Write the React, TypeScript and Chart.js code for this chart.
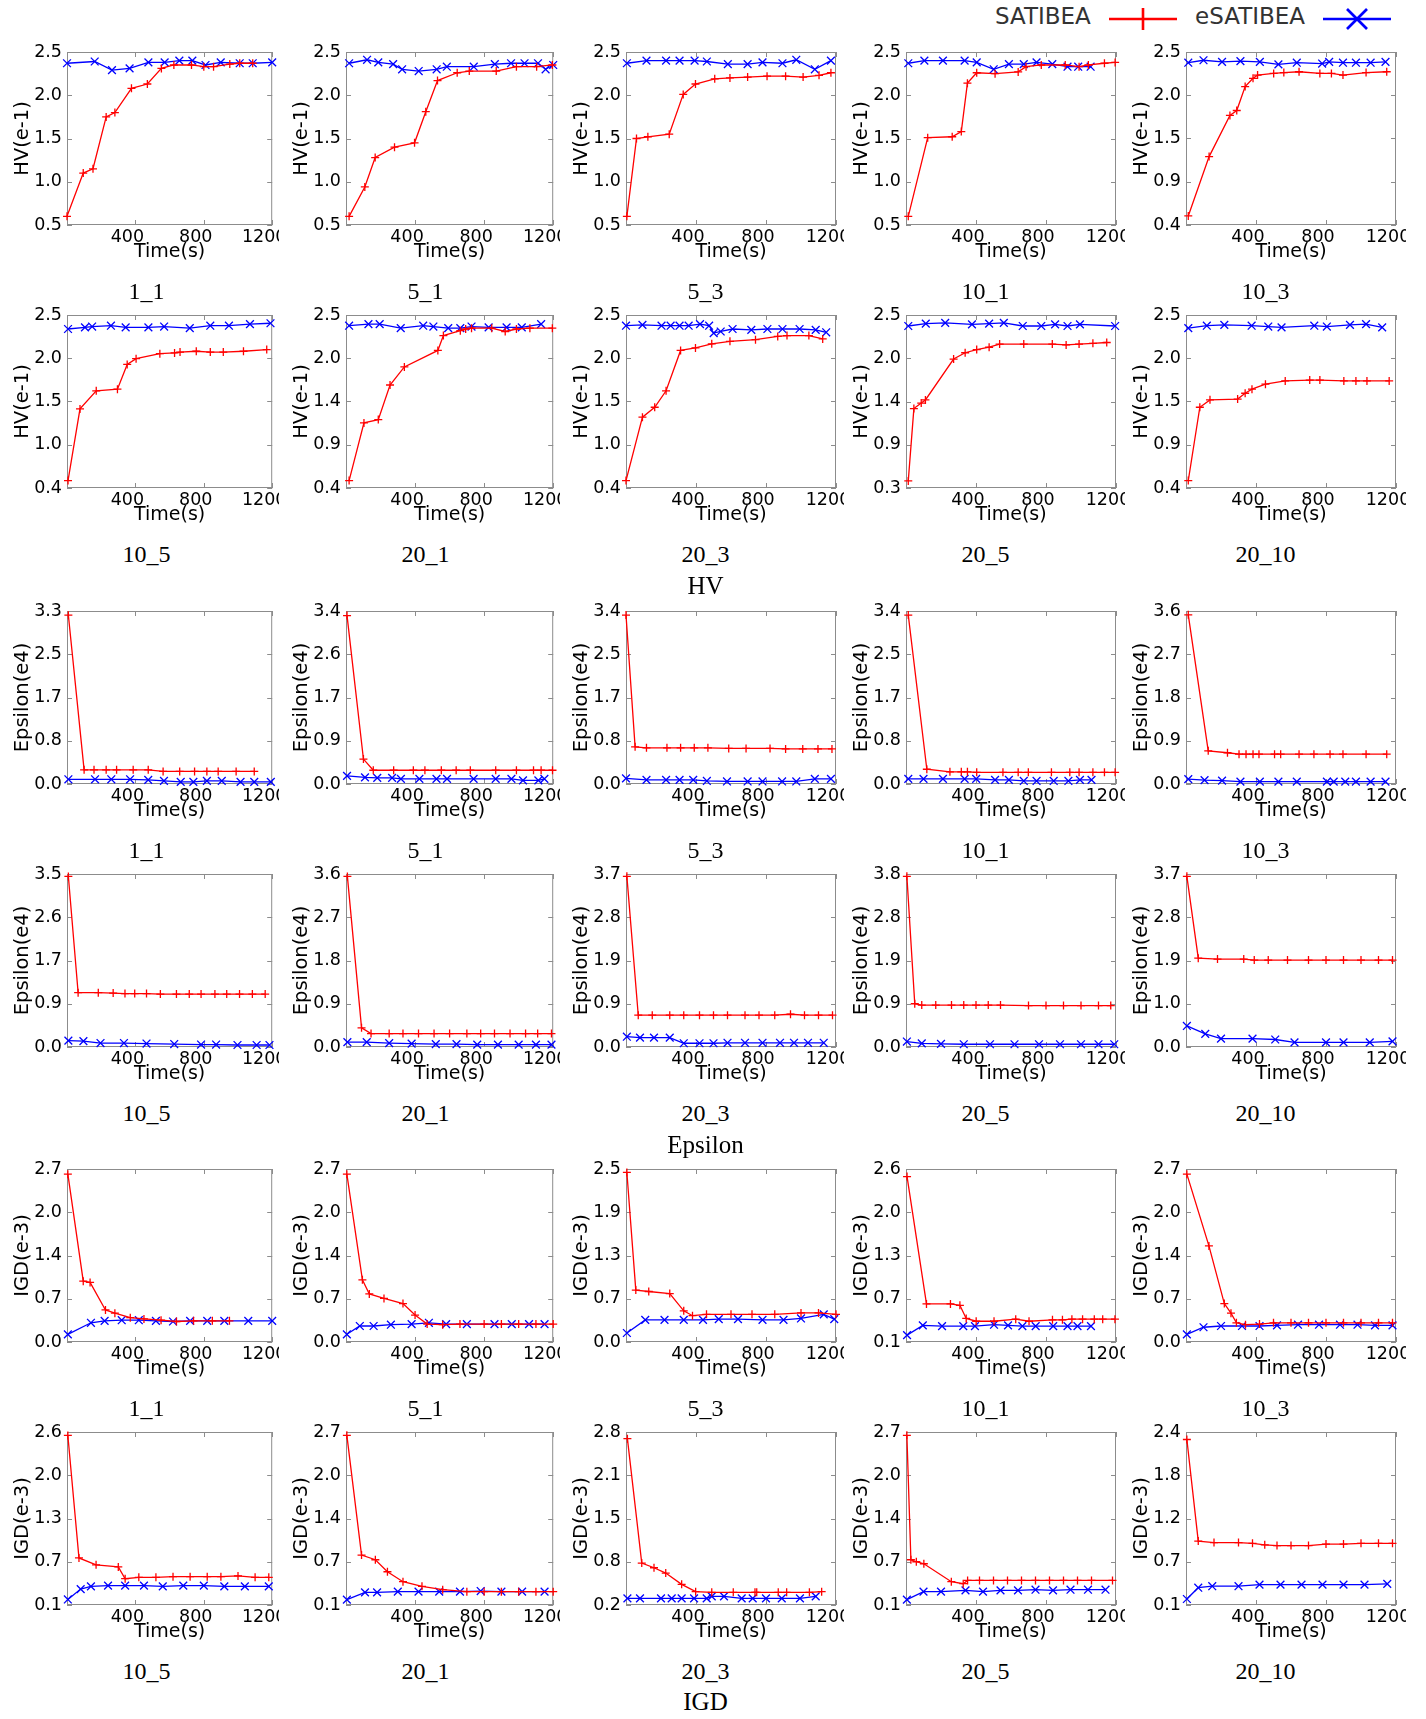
import { useEffect, useRef } from "react";
import { Chart, registerables } from "chart.js";
Chart.register(...registerables);

type Pair = [number, number];

// ---------------- shared axis values ----------------
const TIME_TICKS = [400, 800, 1200];
const TIME_MIN = 0;
const TIME_MAX = 1200;
const SERIES_NAMES = ["SATIBEA", "eSATIBEA"];
const INSTANCES_ROW_A = ["1_1", "5_1", "5_3", "10_1", "10_3"];
const INSTANCES_ROW_B = ["10_5", "20_1", "20_3", "20_5", "20_10"];
const METRICS = ["HV", "Epsilon", "IGD"];
const METRIC_AXIS = ["HV(e-1)", "Epsilon(e4)", "IGD(e-3)"];

// ---------------- HV ----------------
const hv_1_1_range = [0.5, 2.5];
const hv_1_1_ticks = ["0.5", "1.0", "1.5", "2.0", "2.5"];
const hv_1_1_sat: Pair[] = [[0,0.60],[95,1.10],[152,1.15],[229,1.75],[280,1.80],[377,2.08],[470,2.13],[552,2.31],[625,2.35],[728,2.35],[800,2.33],[857,2.33],[952,2.36],[1010,2.37],[1086,2.37]];
const hv_1_1_esat: Pair[] = [[0,2.37],[162,2.39],[263,2.29],[366,2.31],[476,2.38],[571,2.38],[657,2.40],[733,2.40],[810,2.35],[899,2.38],[1010,2.37],[1086,2.37],[1200,2.38]];

const hv_5_1_range = [0.5, 2.5];
const hv_5_1_ticks = ["0.5", "1.0", "1.5", "2.0", "2.5"];
const hv_5_1_sat: Pair[] = [[18,0.60],[109,0.94],[169,1.28],[281,1.40],[397,1.45],[462,1.81],[530,2.17],[644,2.26],[714,2.28],[870,2.28],[987,2.33],[1104,2.33],[1195,2.35]];
const hv_5_1_esat: Pair[] = [[18,2.37],[122,2.41],[187,2.38],[273,2.36],[325,2.30],[421,2.28],[525,2.30],[584,2.33],[740,2.33],[862,2.36],[956,2.37],[1034,2.37],[1112,2.37],[1156,2.30],[1200,2.35]];

const hv_5_3_range = [0.5, 2.5];
const hv_5_3_ticks = ["0.5", "1.0", "1.5", "2.0", "2.5"];
const hv_5_3_sat: Pair[] = [[5,0.60],[60,1.50],[125,1.52],[247,1.55],[327,2.01],[397,2.13],[507,2.19],[594,2.20],[695,2.21],[806,2.22],[912,2.22],[1012,2.21],[1103,2.23],[1171,2.26]];
const hv_5_3_esat: Pair[] = [[5,2.37],[117,2.40],[229,2.40],[306,2.40],[392,2.40],[462,2.39],[582,2.36],[695,2.36],[780,2.38],[894,2.37],[973,2.41],[1079,2.30],[1171,2.40]];

const hv_10_1_range = [0.5, 2.5];
const hv_10_1_ticks = ["0.5", "1.0", "1.5", "2.0", "2.5"];
const hv_10_1_sat: Pair[] = [[13,0.60],[124,1.51],[264,1.52],[316,1.58],[351,2.14],[404,2.26],[509,2.25],[641,2.27],[686,2.33],[773,2.35],[910,2.35],[989,2.33],[1042,2.35],[1134,2.37],[1195,2.38]];
const hv_10_1_esat: Pair[] = [[13,2.37],[105,2.40],[211,2.40],[335,2.40],[404,2.38],[501,2.30],[588,2.36],[673,2.36],[746,2.38],[836,2.36],[923,2.33],[984,2.33],[1055,2.33]];

const hv_10_3_range = [0.4, 2.5];
const hv_10_3_ticks = ["0.4", "0.9", "1.5", "2.0", "2.5"];
const hv_10_3_sat: Pair[] = [[13,0.51],[132,1.23],[251,1.73],[290,1.79],[338,2.08],[383,2.18],[409,2.22],[501,2.24],[559,2.25],[646,2.26],[765,2.24],[831,2.24],[897,2.22],[1029,2.25],[1147,2.26]];
const hv_10_3_esat: Pair[] = [[13,2.37],[100,2.40],[206,2.38],[311,2.39],[422,2.38],[528,2.35],[633,2.37],[778,2.36],[818,2.38],[897,2.37],[971,2.37],[1055,2.37],[1140,2.38]];

const hv_10_5_range = [0.4, 2.5];
const hv_10_5_ticks = ["0.4", "1.0", "1.5", "2.0", "2.5"];
const hv_10_5_sat: Pair[] = [[6,0.49],[76,1.36],[171,1.58],[295,1.60],[352,1.90],[404,1.97],[543,2.03],[629,2.04],[661,2.05],[756,2.06],[838,2.05],[914,2.05],[1032,2.06],[1168,2.08]];
const hv_10_5_esat: Pair[] = [[6,2.33],[105,2.35],[147,2.36],[257,2.37],[343,2.35],[476,2.35],[568,2.36],[718,2.34],[838,2.37],[947,2.37],[1070,2.39],[1190,2.40]];

const hv_20_1_range = [0.4, 2.5];
const hv_20_1_ticks = ["0.4", "0.9", "1.4", "2.0", "2.5"];
const hv_20_1_sat: Pair[] = [[18,0.49],[104,1.19],[187,1.23],[255,1.65],[338,1.87],[532,2.07],[564,2.25],[662,2.31],[693,2.33],[727,2.34],[844,2.34],[922,2.30],[987,2.33],[1065,2.34],[1195,2.34]];
const hv_20_1_esat: Pair[] = [[18,2.37],[130,2.39],[195,2.39],[317,2.34],[447,2.37],[506,2.36],[592,2.34],[662,2.34],[727,2.36],[826,2.35],[930,2.35],[1018,2.35],[1130,2.39]];

const hv_20_3_range = [0.4, 2.5];
const hv_20_3_ticks = ["0.4", "1.0", "1.5", "2.0", "2.5"];
const hv_20_3_sat: Pair[] = [[0,0.49],[94,1.26],[164,1.38],[229,1.58],[312,2.07],[397,2.10],[490,2.15],[594,2.18],[740,2.20],[867,2.24],[920,2.25],[1045,2.25],[1124,2.21]];
const hv_20_3_esat: Pair[] = [[0,2.37],[94,2.38],[203,2.37],[255,2.37],[306,2.37],[358,2.37],[423,2.39],[475,2.37],[501,2.28],[541,2.30],[609,2.33],[716,2.32],[808,2.33],[894,2.33],[992,2.33],[1084,2.32],[1144,2.29]];

const hv_20_5_range = [0.3, 2.5];
const hv_20_5_ticks = ["0.3", "0.9", "1.4", "2.0", "2.5"];
const hv_20_5_sat: Pair[] = [[13,0.39],[45,1.31],[87,1.38],[111,1.42],[272,1.94],[338,2.02],[404,2.06],[475,2.09],[535,2.13],[673,2.13],[836,2.13],[915,2.12],[989,2.13],[1068,2.14],[1147,2.15]];
const hv_20_5_esat: Pair[] = [[13,2.36],[113,2.39],[224,2.40],[377,2.38],[475,2.39],[559,2.40],[667,2.36],[773,2.36],[852,2.38],[923,2.36],[994,2.38],[1195,2.36]];

const hv_20_10_range = [0.4, 2.5];
const hv_20_10_ticks = ["0.4", "0.9", "1.5", "2.0", "2.5"];
const hv_20_10_sat: Pair[] = [[13,0.49],[79,1.38],[137,1.47],[295,1.48],[338,1.55],[377,1.60],[454,1.66],[567,1.70],[707,1.71],[765,1.71],[902,1.70],[971,1.70],[1034,1.70],[1161,1.70]];
const hv_20_10_esat: Pair[] = [[13,2.34],[119,2.37],[219,2.38],[375,2.37],[470,2.36],[546,2.35],[733,2.37],[805,2.36],[937,2.38],[1029,2.39],[1121,2.35]];

// ---------------- Epsilon ----------------
const eps_1_1_range = [0, 3.3];
const eps_1_1_ticks = ["0.0", "0.8", "1.7", "2.5", "3.3"];
const eps_1_1_sat: Pair[] = [[8,3.22],[100,0.27],[158,0.27],[229,0.27],[290,0.27],[387,0.27],[475,0.27],[562,0.24],[659,0.24],[746,0.24],[818,0.24],[884,0.24],[989,0.24],[1095,0.24]];
const eps_1_1_esat: Pair[] = [[8,0.09],[164,0.09],[259,0.09],[369,0.09],[475,0.08],[567,0.06],[665,0.04],[739,0.04],[818,0.06],[905,0.06],[1015,0.04],[1095,0.04],[1192,0.04]];

const eps_5_1_range = [0, 3.4];
const eps_5_1_ticks = ["0.0", "0.9", "1.7", "2.6", "3.4"];
const eps_5_1_sat: Pair[] = [[6,3.31],[101,0.49],[158,0.27],[276,0.27],[390,0.27],[457,0.27],[552,0.27],[638,0.27],[720,0.27],[867,0.27],[987,0.27],[1086,0.27],[1130,0.27],[1196,0.27]];
const eps_5_1_esat: Pair[] = [[6,0.16],[110,0.13],[181,0.12],[267,0.12],[318,0.10],[425,0.10],[524,0.10],[585,0.10],[739,0.10],[867,0.10],[958,0.10],[1025,0.07],[1114,0.07],[1149,0.10]];

const eps_5_3_range = [0, 3.4];
const eps_5_3_ticks = ["0.0", "0.8", "1.7", "2.5", "3.4"];
const eps_5_3_sat: Pair[] = [[0,3.32],[52,0.73],[117,0.71],[234,0.71],[312,0.71],[390,0.71],[468,0.71],[587,0.70],[686,0.70],[823,0.70],[912,0.69],[1010,0.69],[1097,0.69],[1177,0.69]];
const eps_5_3_esat: Pair[] = [[0,0.11],[117,0.08],[229,0.08],[306,0.08],[384,0.08],[462,0.06],[577,0.05],[695,0.05],[780,0.05],[892,0.05],[973,0.05],[1079,0.10],[1171,0.10]];

const eps_10_1_range = [0, 3.4];
const eps_10_1_ticks = ["0.0", "0.8", "1.7", "2.5", "3.4"];
const eps_10_1_sat: Pair[] = [[13,3.32],[119,0.29],[251,0.24],[316,0.24],[351,0.24],[404,0.23],[554,0.23],[641,0.23],[699,0.23],[831,0.23],[936,0.23],[989,0.23],[1068,0.23],[1134,0.23],[1195,0.23]];
const eps_10_1_esat: Pair[] = [[13,0.10],[100,0.10],[211,0.10],[335,0.10],[401,0.10],[509,0.08],[588,0.08],[673,0.06],[746,0.06],[844,0.06],[928,0.06],[994,0.08],[1060,0.08]];

const eps_10_3_range = [0, 3.6];
const eps_10_3_ticks = ["0.0", "0.9", "1.8", "2.7", "3.6"];
const eps_10_3_sat: Pair[] = [[13,3.52],[127,0.69],[237,0.65],[303,0.62],[343,0.62],[383,0.62],[417,0.62],[506,0.62],[541,0.62],[646,0.62],[731,0.62],[823,0.62],[897,0.62],[1029,0.62],[1147,0.62]];
const eps_10_3_esat: Pair[] = [[13,0.10],[106,0.08],[206,0.07],[311,0.05],[422,0.05],[528,0.05],[633,0.05],[805,0.05],[844,0.05],[910,0.05],[971,0.05],[1055,0.05],[1140,0.05]];

const eps_10_5_range = [0, 3.5];
const eps_10_5_ticks = ["0.0", "0.9", "1.7", "2.6", "3.5"];
const eps_10_5_sat: Pair[] = [[8,3.45],[65,1.10],[183,1.10],[270,1.09],[339,1.08],[396,1.08],[465,1.08],[546,1.07],[640,1.07],[715,1.07],[784,1.07],[865,1.07],[934,1.07],[1009,1.07],[1084,1.07],[1159,1.07]];
const eps_10_5_esat: Pair[] = [[8,0.13],[96,0.12],[196,0.08],[333,0.08],[465,0.07],[627,0.06],[784,0.05],[872,0.05],[997,0.04],[1109,0.04],[1184,0.04]];

const eps_20_1_range = [0, 3.6];
const eps_20_1_ticks = ["0.0", "0.9", "1.8", "2.7", "3.6"];
const eps_20_1_sat: Pair[] = [[8,3.55],[90,0.40],[145,0.28],[250,0.28],[330,0.28],[420,0.28],[510,0.28],[600,0.28],[700,0.28],[780,0.28],[860,0.28],[950,0.28],[1040,0.28],[1110,0.28],[1190,0.28]];
const eps_20_1_esat: Pair[] = [[8,0.10],[120,0.10],[250,0.08],[380,0.07],[520,0.06],[640,0.06],[760,0.05],[880,0.05],[1000,0.05],[1100,0.05],[1190,0.05]];

const eps_20_3_range = [0, 3.7];
const eps_20_3_ticks = ["0.0", "0.9", "1.9", "2.8", "3.7"];
const eps_20_3_sat: Pair[] = [[5,3.65],[70,0.68],[150,0.68],[250,0.68],[330,0.68],[420,0.68],[500,0.68],[580,0.68],[680,0.68],[760,0.68],[850,0.68],[940,0.70],[1020,0.68],[1100,0.68],[1180,0.68]];
const eps_20_3_esat: Pair[] = [[5,0.22],[80,0.20],[160,0.20],[250,0.20],[330,0.08],[420,0.08],[500,0.08],[580,0.09],[680,0.09],[780,0.09],[880,0.09],[960,0.09],[1040,0.09],[1130,0.09]];

const eps_20_5_range = [0, 3.8];
const eps_20_5_ticks = ["0.0", "0.9", "1.9", "2.8", "3.8"];
const eps_20_5_sat: Pair[] = [[5,3.75],[50,0.95],[90,0.92],[170,0.92],[260,0.92],[330,0.92],[400,0.92],[470,0.92],[540,0.92],[700,0.91],[800,0.91],[900,0.91],[1000,0.91],[1100,0.91],[1170,0.91]];
const eps_20_5_esat: Pair[] = [[5,0.12],[90,0.08],[200,0.07],[330,0.06],[480,0.06],[620,0.06],[760,0.06],[880,0.06],[1000,0.06],[1100,0.06],[1190,0.06]];

const eps_20_10_range = [0, 3.7];
const eps_20_10_ticks = ["0.0", "1.0", "1.9", "2.8", "3.7"];
const eps_20_10_sat: Pair[] = [[5,3.65],[70,1.90],[180,1.88],[330,1.88],[390,1.86],[470,1.86],[580,1.86],[700,1.86],[800,1.86],[900,1.86],[1000,1.86],[1100,1.86],[1180,1.86]];
const eps_20_10_esat: Pair[] = [[5,0.45],[110,0.28],[200,0.18],[380,0.18],[510,0.16],[620,0.10],[800,0.10],[900,0.10],[1050,0.10],[1180,0.12]];

// ---------------- IGD ----------------
const igd_1_1_range = [0, 2.7];
const igd_1_1_ticks = ["0.0", "0.7", "1.4", "2.0", "2.7"];
const igd_1_1_sat: Pair[] = [[5,2.62],[95,0.95],[135,0.93],[225,0.50],[280,0.45],[370,0.38],[450,0.36],[550,0.34],[640,0.32],[740,0.33],[850,0.33],[950,0.33]];
const igd_1_1_esat: Pair[] = [[5,0.12],[140,0.30],[220,0.33],[320,0.34],[420,0.34],[520,0.33],[620,0.32],[720,0.33],[820,0.33],[920,0.33],[1060,0.33],[1200,0.33]];

const igd_5_1_range = [0, 2.7];
const igd_5_1_ticks = ["0.0", "0.7", "1.4", "2.0", "2.7"];
const igd_5_1_sat: Pair[] = [[5,2.62],[95,0.97],[135,0.75],[220,0.68],[330,0.60],[400,0.42],[470,0.28],[560,0.27],[660,0.28],[800,0.28],[900,0.28],[1000,0.28],[1100,0.28],[1200,0.28]];
const igd_5_1_esat: Pair[] = [[5,0.12],[80,0.25],[160,0.25],[260,0.27],[380,0.28],[480,0.30],[580,0.28],[700,0.28],[860,0.28],[960,0.28],[1060,0.28],[1150,0.28]];

const igd_5_3_range = [0, 2.5];
const igd_5_3_ticks = ["0.0", "0.7", "1.3", "1.9", "2.5"];
const igd_5_3_sat: Pair[] = [[5,2.45],[56,0.75],[130,0.73],[250,0.70],[330,0.45],[380,0.38],[460,0.40],[600,0.40],[720,0.40],[850,0.40],[1000,0.42],[1100,0.42],[1200,0.40]];
const igd_5_3_esat: Pair[] = [[5,0.13],[110,0.32],[220,0.32],[330,0.32],[440,0.32],[530,0.33],[640,0.33],[780,0.32],[900,0.32],[1000,0.34],[1130,0.40],[1190,0.33]];

const igd_10_1_range = [0.1, 2.6];
const igd_10_1_ticks = ["0.1", "0.7", "1.3", "2.0", "2.6"];
const igd_10_1_sat: Pair[] = [[6,2.49],[117,0.65],[254,0.65],[308,0.63],[344,0.44],[401,0.40],[503,0.40],[627,0.43],[703,0.40],[837,0.42],[894,0.42],[948,0.43],[1009,0.43],[1076,0.43],[1124,0.43],[1194,0.43]];
const igd_10_1_esat: Pair[] = [[6,0.20],[96,0.34],[206,0.33],[327,0.33],[394,0.33],[503,0.35],[583,0.34],[665,0.33],[741,0.33],[841,0.33],[923,0.33],[980,0.33],[1057,0.33]];

const igd_10_3_range = [0, 2.7];
const igd_10_3_ticks = ["0.0", "0.7", "1.4", "2.0", "2.7"];
const igd_10_3_sat: Pair[] = [[5,2.62],[131,1.50],[219,0.60],[257,0.45],[288,0.30],[340,0.27],[420,0.28],[500,0.30],[600,0.30],[700,0.30],[800,0.30],[900,0.30],[1000,0.30],[1100,0.30],[1180,0.30]];
const igd_10_3_esat: Pair[] = [[5,0.12],[100,0.23],[200,0.25],[320,0.25],[420,0.25],[520,0.26],[640,0.27],[760,0.27],[880,0.27],[980,0.27],[1080,0.26],[1180,0.26]];

const igd_10_5_range = [0.1, 2.6];
const igd_10_5_ticks = ["0.1", "0.7", "1.3", "2.0", "2.6"];
const igd_10_5_sat: Pair[] = [[5,2.55],[70,0.78],[170,0.68],[300,0.65],[340,0.48],[420,0.50],[520,0.50],[620,0.51],[720,0.51],[820,0.51],[900,0.51],[1000,0.52],[1100,0.50],[1180,0.50]];
const igd_10_5_esat: Pair[] = [[5,0.18],[80,0.33],[140,0.37],[240,0.38],[340,0.38],[450,0.38],[560,0.37],[680,0.38],[800,0.38],[920,0.37],[1040,0.37],[1180,0.37]];

const igd_20_1_range = [0.1, 2.7];
const igd_20_1_ticks = ["0.1", "0.7", "1.4", "2.0", "2.7"];
const igd_20_1_sat: Pair[] = [[5,2.65],[90,0.85],[170,0.78],[240,0.60],[330,0.45],[440,0.38],[560,0.33],[700,0.30],[800,0.30],[900,0.30],[1000,0.30],[1100,0.30],[1200,0.30]];
const igd_20_1_esat: Pair[] = [[5,0.18],[110,0.29],[180,0.29],[300,0.30],[420,0.30],[540,0.30],[660,0.30],[780,0.31],[900,0.30],[1020,0.30],[1150,0.30]];

const igd_20_3_range = [0.2, 2.8];
const igd_20_3_ticks = ["0.2", "0.8", "1.5", "2.1", "2.8"];
const igd_20_3_sat: Pair[] = [[8,2.70],[90,0.83],[160,0.76],[227,0.68],[318,0.51],[398,0.40],[490,0.39],[613,0.39],[737,0.39],[747,0.39],[870,0.39],[918,0.39],[1048,0.39],[1118,0.40]];
const igd_20_3_esat: Pair[] = [[8,0.30],[80,0.30],[200,0.30],[261,0.30],[318,0.30],[389,0.30],[461,0.30],[490,0.33],[560,0.33],[661,0.30],[724,0.30],[800,0.30],[890,0.30],[994,0.30],[1084,0.33]];

const igd_20_5_range = [0.1, 2.7];
const igd_20_5_ticks = ["0.1", "0.7", "1.4", "2.0", "2.7"];
const igd_20_5_sat: Pair[] = [[5,2.65],[28,0.78],[59,0.75],[102,0.72],[259,0.45],[327,0.42],[352,0.47],[420,0.47],[500,0.47],[580,0.47],[660,0.47],[740,0.47],[820,0.47],[900,0.47],[980,0.47],[1060,0.47],[1180,0.47]];
const igd_20_5_esat: Pair[] = [[5,0.18],[100,0.30],[200,0.30],[340,0.32],[440,0.30],[540,0.32],[640,0.32],[740,0.33],[840,0.32],[940,0.33],[1040,0.33],[1140,0.33]];

const igd_20_10_range = [0.1, 2.4];
const igd_20_10_ticks = ["0.1", "0.7", "1.2", "1.8", "2.4"];
const igd_20_10_sat: Pair[] = [[5,2.30],[70,0.95],[160,0.93],[300,0.93],[380,0.92],[450,0.90],[520,0.89],[600,0.89],[700,0.89],[800,0.91],[900,0.91],[1000,0.92],[1100,0.92],[1180,0.92]];
const igd_20_10_esat: Pair[] = [[5,0.18],[70,0.33],[150,0.35],[300,0.35],[420,0.37],[540,0.37],[660,0.37],[780,0.37],[900,0.37],[1020,0.37],[1150,0.38]];

// ---------------- panel table ----------------
interface PanelSpec { label: string; axis: string; range: number[]; ticks: string[]; sat: Pair[]; esat: Pair[]; }
const P = (label: string, axis: string, range: number[], ticks: string[], sat: Pair[], esat: Pair[]): PanelSpec => ({ label, axis, range, ticks, sat, esat });

const ROWS: PanelSpec[][] = [
  [P(INSTANCES_ROW_A[0], METRIC_AXIS[0], hv_1_1_range, hv_1_1_ticks, hv_1_1_sat, hv_1_1_esat),
   P(INSTANCES_ROW_A[1], METRIC_AXIS[0], hv_5_1_range, hv_5_1_ticks, hv_5_1_sat, hv_5_1_esat),
   P(INSTANCES_ROW_A[2], METRIC_AXIS[0], hv_5_3_range, hv_5_3_ticks, hv_5_3_sat, hv_5_3_esat),
   P(INSTANCES_ROW_A[3], METRIC_AXIS[0], hv_10_1_range, hv_10_1_ticks, hv_10_1_sat, hv_10_1_esat),
   P(INSTANCES_ROW_A[4], METRIC_AXIS[0], hv_10_3_range, hv_10_3_ticks, hv_10_3_sat, hv_10_3_esat)],
  [P(INSTANCES_ROW_B[0], METRIC_AXIS[0], hv_10_5_range, hv_10_5_ticks, hv_10_5_sat, hv_10_5_esat),
   P(INSTANCES_ROW_B[1], METRIC_AXIS[0], hv_20_1_range, hv_20_1_ticks, hv_20_1_sat, hv_20_1_esat),
   P(INSTANCES_ROW_B[2], METRIC_AXIS[0], hv_20_3_range, hv_20_3_ticks, hv_20_3_sat, hv_20_3_esat),
   P(INSTANCES_ROW_B[3], METRIC_AXIS[0], hv_20_5_range, hv_20_5_ticks, hv_20_5_sat, hv_20_5_esat),
   P(INSTANCES_ROW_B[4], METRIC_AXIS[0], hv_20_10_range, hv_20_10_ticks, hv_20_10_sat, hv_20_10_esat)],
  [P(INSTANCES_ROW_A[0], METRIC_AXIS[1], eps_1_1_range, eps_1_1_ticks, eps_1_1_sat, eps_1_1_esat),
   P(INSTANCES_ROW_A[1], METRIC_AXIS[1], eps_5_1_range, eps_5_1_ticks, eps_5_1_sat, eps_5_1_esat),
   P(INSTANCES_ROW_A[2], METRIC_AXIS[1], eps_5_3_range, eps_5_3_ticks, eps_5_3_sat, eps_5_3_esat),
   P(INSTANCES_ROW_A[3], METRIC_AXIS[1], eps_10_1_range, eps_10_1_ticks, eps_10_1_sat, eps_10_1_esat),
   P(INSTANCES_ROW_A[4], METRIC_AXIS[1], eps_10_3_range, eps_10_3_ticks, eps_10_3_sat, eps_10_3_esat)],
  [P(INSTANCES_ROW_B[0], METRIC_AXIS[1], eps_10_5_range, eps_10_5_ticks, eps_10_5_sat, eps_10_5_esat),
   P(INSTANCES_ROW_B[1], METRIC_AXIS[1], eps_20_1_range, eps_20_1_ticks, eps_20_1_sat, eps_20_1_esat),
   P(INSTANCES_ROW_B[2], METRIC_AXIS[1], eps_20_3_range, eps_20_3_ticks, eps_20_3_sat, eps_20_3_esat),
   P(INSTANCES_ROW_B[3], METRIC_AXIS[1], eps_20_5_range, eps_20_5_ticks, eps_20_5_sat, eps_20_5_esat),
   P(INSTANCES_ROW_B[4], METRIC_AXIS[1], eps_20_10_range, eps_20_10_ticks, eps_20_10_sat, eps_20_10_esat)],
  [P(INSTANCES_ROW_A[0], METRIC_AXIS[2], igd_1_1_range, igd_1_1_ticks, igd_1_1_sat, igd_1_1_esat),
   P(INSTANCES_ROW_A[1], METRIC_AXIS[2], igd_5_1_range, igd_5_1_ticks, igd_5_1_sat, igd_5_1_esat),
   P(INSTANCES_ROW_A[2], METRIC_AXIS[2], igd_5_3_range, igd_5_3_ticks, igd_5_3_sat, igd_5_3_esat),
   P(INSTANCES_ROW_A[3], METRIC_AXIS[2], igd_10_1_range, igd_10_1_ticks, igd_10_1_sat, igd_10_1_esat),
   P(INSTANCES_ROW_A[4], METRIC_AXIS[2], igd_10_3_range, igd_10_3_ticks, igd_10_3_sat, igd_10_3_esat)],
  [P(INSTANCES_ROW_B[0], METRIC_AXIS[2], igd_10_5_range, igd_10_5_ticks, igd_10_5_sat, igd_10_5_esat),
   P(INSTANCES_ROW_B[1], METRIC_AXIS[2], igd_20_1_range, igd_20_1_ticks, igd_20_1_sat, igd_20_1_esat),
   P(INSTANCES_ROW_B[2], METRIC_AXIS[2], igd_20_3_range, igd_20_3_ticks, igd_20_3_sat, igd_20_3_esat),
   P(INSTANCES_ROW_B[3], METRIC_AXIS[2], igd_20_5_range, igd_20_5_ticks, igd_20_5_sat, igd_20_5_esat),
   P(INSTANCES_ROW_B[4], METRIC_AXIS[2], igd_20_10_range, igd_20_10_ticks, igd_20_10_sat, igd_20_10_esat)],
];

// ---------------- layout ----------------
const ROW_TOP = [52, 315, 611, 874, 1169, 1432];
const COL_LEFT = [67, 346, 626, 906, 1186];
const COL_CLIP = [2, 4, 8, 9, 10];
const PLOT_W = 210;
const PLOT_H = 173;
const AXIS_W = 67;
const PAD_TOP = 12;
const XAXIS_H = 45;
const SANS = "'DejaVu Sans', sans-serif";
const SERIF = "'Liberation Serif', 'Times New Roman', serif";
const RED = "#ff0000";
const BLUE = "#0000ff";
const FRAME = "#8c8c8c";

const framePlugin = {
  id: "gnuFrame",
  beforeDatasetsDraw(chart: any) {
    const { ctx, chartArea: a, scales } = chart;
    ctx.save();
    ctx.strokeStyle = FRAME;
    ctx.lineWidth = 1;
    ctx.strokeRect(a.left + 0.5, a.top + 0.5, a.right - a.left - 1, a.bottom - a.top - 1);
    const L = 5;
    ctx.beginPath();
    for (const t of scales.x.ticks) {
      const px = Math.round(scales.x.getPixelForValue(t.value)) + 0.5;
      ctx.moveTo(px, a.top); ctx.lineTo(px, a.top + L);
      ctx.moveTo(px, a.bottom); ctx.lineTo(px, a.bottom - L);
    }
    for (const t of scales.y.ticks) {
      const py = Math.round(scales.y.getPixelForValue(t.value)) + 0.5;
      ctx.moveTo(a.left, py); ctx.lineTo(a.left + L, py);
      ctx.moveTo(a.right, py); ctx.lineTo(a.right - L, py);
    }
    ctx.stroke();
    ctx.restore();
  },
};

function Panel({ spec, col, row }: { spec: PanelSpec; col: number; row: number }) {
  const ref = useRef<HTMLCanvasElement>(null);
  const clip = COL_CLIP[col];
  const W = AXIS_W + PLOT_W + clip;
  const H = PAD_TOP + PLOT_H + XAXIS_H;
  useEffect(() => {
    const [ymin, ymax] = spec.range;
    const chart = new Chart(ref.current as HTMLCanvasElement, {
      type: "line",
      data: {
        datasets: [
          {
            label: SERIES_NAMES[0],
            data: spec.sat.map(([x, y]) => ({ x, y })),
            borderColor: RED, backgroundColor: RED, borderWidth: 1.3,
            pointStyle: "cross", pointRadius: 4, pointBorderColor: RED, pointBorderWidth: 1.3,
            tension: 0, clip: false,
          },
          {
            label: SERIES_NAMES[1],
            data: spec.esat.map(([x, y]) => ({ x, y })),
            borderColor: BLUE, backgroundColor: BLUE, borderWidth: 1.3,
            pointStyle: "crossRot", pointRadius: 5.5, pointBorderColor: BLUE, pointBorderWidth: 1.3,
            tension: 0, clip: false,
          },
        ],
      } as any,
      options: {
        responsive: false,
        animation: false,
        events: [],
        layout: { padding: { top: PAD_TOP, right: clip, left: 0, bottom: 0 } },
        plugins: { legend: { display: false }, tooltip: { enabled: false } },
        scales: {
          x: {
            type: "linear", min: TIME_MIN, max: TIME_MAX,
            grid: { display: false, drawTicks: false }, border: { display: false },
            afterBuildTicks: (s: any) => { s.ticks = TIME_TICKS.map((v) => ({ value: v })); },
            afterFit: (s: any) => { s.height = XAXIS_H; s.paddingLeft = 0; s.paddingRight = 0; },
            ticks: { autoSkip: false, maxRotation: 0, minRotation: 0, padding: 2, labelOffset: -8, color: "#000",
              font: { family: SANS, size: 17.5 }, callback: (v: any) => String(v) },
            title: { display: true, text: "Time(s)", color: "#000", font: { family: SANS, size: 19 }, padding: { top: 0, bottom: 7 } },
          },
          y: {
            type: "linear", min: ymin, max: ymax,
            grid: { display: false, drawTicks: false }, border: { display: false },
            afterBuildTicks: (s: any) => { s.ticks = [0, 1, 2, 3, 4].map((i) => ({ value: ymin + (i * (ymax - ymin)) / 4 })); },
            afterFit: (s: any) => { s.width = AXIS_W; s.paddingTop = 0; s.paddingBottom = 0; },
            ticks: { autoSkip: false, padding: 5, color: "#000", font: { family: SANS, size: 17.5 },
              callback: (_v: any, i: number) => spec.ticks[i] },
            title: { display: true, text: spec.axis, color: "#000", font: { family: SANS, size: 19.5 }, padding: { top: 11, bottom: 0 } },
          },
        },
      } as any,
      plugins: [framePlugin],
    });
    return () => chart.destroy();
  }, [spec, clip]);
  return (
    <canvas
      ref={ref}
      width={W}
      height={H}
      style={{ position: "absolute", left: COL_LEFT[col] - AXIS_W, top: ROW_TOP[row] - PAD_TOP, width: W, height: H }}
    />
  );
}

function Legend() {
  return (
    <svg width={1426} height={40} style={{ position: "absolute", left: 0, top: 0 }}>
      <text x={995} y={24} fontFamily={SANS} fontSize={23} fill="#333">{SERIES_NAMES[0]}</text>
      <line x1={1109} y1={19} x2={1177} y2={19} stroke={RED} strokeWidth={2.6} />
      <line x1={1143} y1={8} x2={1143} y2={30} stroke={RED} strokeWidth={2.6} />
      <text x={1195} y={24} fontFamily={SANS} fontSize={23} fill="#333">{SERIES_NAMES[1]}</text>
      <line x1={1323} y1={19} x2={1391} y2={19} stroke={BLUE} strokeWidth={2.6} />
      <line x1={1347} y1={9} x2={1367} y2={29} stroke={BLUE} strokeWidth={2.6} />
      <line x1={1347} y1={29} x2={1367} y2={9} stroke={BLUE} strokeWidth={2.6} />
    </svg>
  );
}

function CenterText({ text, cx, cy, size }: { text: string; cx: number; cy: number; size: number }) {
  return (
    <div style={{ position: "absolute", left: cx - 150, top: cy - 20, width: 300, height: 40, lineHeight: "40px",
      textAlign: "center", fontFamily: SERIF, fontSize: size, color: "#000", whiteSpace: "nowrap" }}>
      {text}
    </div>
  );
}

export default function App() {
  const labelDX = 79.5;
  const labelDY = 239;
  const sectionCY = [586, 1145, 1702];
  return (
    <div style={{ position: "absolute", left: 0, top: 0, width: 1426, height: 1719, background: "#fff", overflow: "hidden" }}>
      <Legend />
      {ROWS.map((row, r) =>
        row.map((spec, c) => <Panel key={`${r}-${c}`} spec={spec} col={c} row={r} />)
      )}
      {ROWS.map((row, r) =>
        row.map((spec, c) => (
          <CenterText key={`l${r}-${c}`} text={spec.label} cx={COL_LEFT[c] + labelDX} cy={ROW_TOP[r] + labelDY} size={24} />
        ))
      )}
      {METRICS.map((m, i) => (
        <CenterText key={m} text={m} cx={COL_LEFT[2] + labelDX} cy={sectionCY[i]} size={25} />
      ))}
    </div>
  );
}
